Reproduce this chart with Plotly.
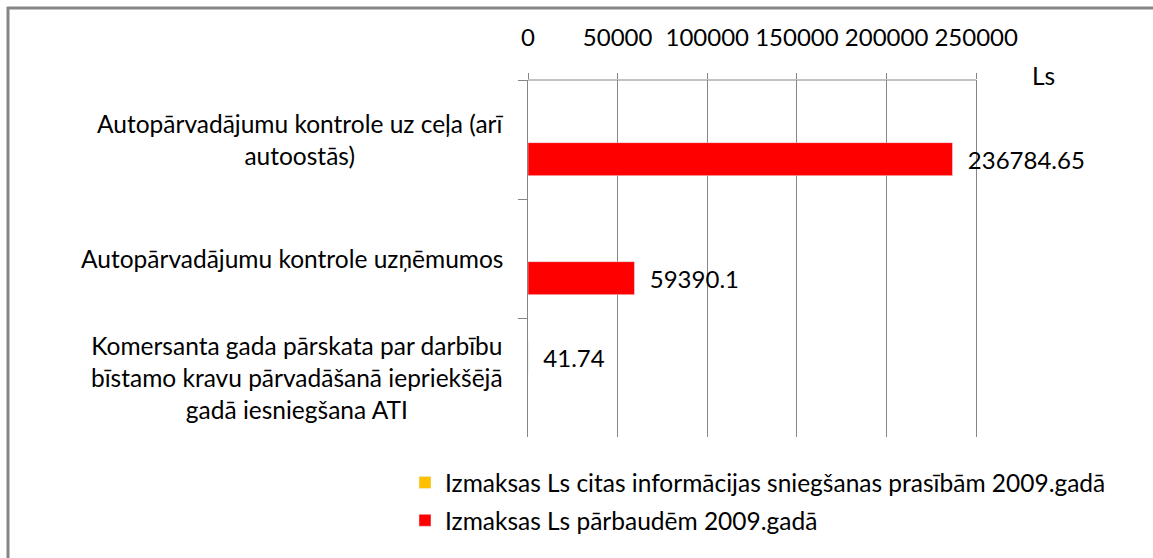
import plotly.graph_objects as go

categories = [
    "Autopārvadājumu kontrole uz ceļa (arī<br>autoostās)",
    "Autopārvadājumu kontrole uzņēmumos",
    "Komersanta gada pārskata par darbību<br>bīstamo kravu pārvadāšanā iepriekšējā<br>gadā iesniegšana ATI",
]
cat_keys = ["c1", "c2", "c3"]
series_info = [None, None, 41.74]
series_checks = [236784.65, 59390.1, None]
name_info = "Izmaksas Ls citas informācijas sniegšanas prasībām 2009.gadā"
name_checks = "Izmaksas Ls pārbaudēm 2009.gadā"
tick_vals = [0, 50000, 100000, 150000, 200000, 250000]
x_max = 251000

W, H = 1153, 558
L, T, B = 528, 80, H - 437
px_per_unit = (976 - L) / 250000
pw = round(x_max * px_per_unit)
R = W - L - pw
ph = H - T - B
FONT = "Lato, Carlito, Calibri, sans-serif"
FS_TXT = 24.5
FS_NUM = 24

def lbl(vals):
    return ["\u00a0\u00a0" + str(v) if v is not None else "" for v in vals]

fig = go.Figure()
fig.add_trace(go.Bar(
    y=cat_keys, x=series_info, orientation="h", name=name_info,
    marker_color="#FFC000", text=lbl(series_info), texttemplate="%{text}",
    textposition="outside", cliponaxis=False, legendgroup="a",
    textfont=dict(family=FONT, size=FS_NUM, color="#000000"),
))
fig.add_trace(go.Bar(
    y=cat_keys, x=series_checks, orientation="h", name=name_checks,
    marker_color="#FF0000", text=lbl(series_checks), texttemplate="%{text}",
    textposition="outside", cliponaxis=False, legendgroup="b",
    textfont=dict(family=FONT, size=FS_NUM, color="#000000"),
))

annotations = []
for k, c in zip(cat_keys, categories):
    annotations.append(dict(
        x=(505 - L) / pw, xref="paper", y=k, yref="y", text=c,
        xanchor="right", yanchor="middle", align="center", showarrow=False,
        font=dict(family=FONT, size=FS_TXT, color="#000000"),
    ))
annotations.append(dict(
    x=(1030 - L) / pw, xref="paper", y=(T - 75) / ph + 1, yref="paper", text="Ls",
    xanchor="left", yanchor="middle", showarrow=False,
    font=dict(family=FONT, size=FS_TXT, color="#000000"),
))

shapes = [
    dict(type="line", xref="paper", yref="paper",
         x0=(7 - L) / pw, x1=(W - L) / pw, y0=1 + (T - 8) / ph, y1=1 + (T - 8) / ph,
         line=dict(color="#868686", width=3)),
    dict(type="line", xref="paper", yref="paper",
         x0=(8 - L) / pw, x1=(8 - L) / pw, y0=1 + (T - 7) / ph, y1=-(B) / ph,
         line=dict(color="#868686", width=3)),
]

fig.update_layout(
    width=W, height=H,
    margin=dict(l=L, r=R, t=T, b=B, pad=0, autoexpand=False),
    paper_bgcolor="white", plot_bgcolor="white",
    barmode="group", bargap=0.34, bargroupgap=0.16,
    font=dict(family=FONT, size=FS_TXT, color="#000000"),
    xaxis=dict(
        side="top", range=[0, x_max], tickvals=tick_vals,
        ticktext=[str(v) for v in tick_vals],
        showgrid=True, gridcolor="#868686", gridwidth=1,
        showline=False,
        ticks="outside", ticklen=6, tickcolor="#868686",
        zeroline=False, fixedrange=True,
        tickfont=dict(family=FONT, size=FS_NUM, color="#000000"),
        ticklabelstandoff=17,
    ),
    yaxis=dict(
        categoryorder="array", categoryarray=cat_keys, autorange="reversed",
        showticklabels=False, showline=True, linecolor="#868686", linewidth=1,
        ticks="outside", ticklen=9, tickcolor="#868686",
        tickson="boundaries", showgrid=False, zeroline=False, fixedrange=True,
    ),
    legend=dict(
        x=(405 - L) / pw, xanchor="left", y=-(460 - (T + ph)) / ph, yanchor="top",
        font=dict(family=FONT, size=FS_TXT, color="#000000"),
        tracegroupgap=3, bgcolor="rgba(0,0,0,0)",
    ),
    annotations=annotations, shapes=shapes, showlegend=True,
)
# horizontal axis line at the top, spanning 0..250000 only
shapes.append(dict(type="line", xref="x", yref="paper", x0=0, x1=tick_vals[-1],
                   y0=1, y1=1, line=dict(color="#868686", width=1)))
fig.update_layout(shapes=shapes)

fig.write_html(
    "out.html",
    config={"displayModeBar": False},
    post_script="document.body.style.margin='0';document.body.style.padding='0';",
)
